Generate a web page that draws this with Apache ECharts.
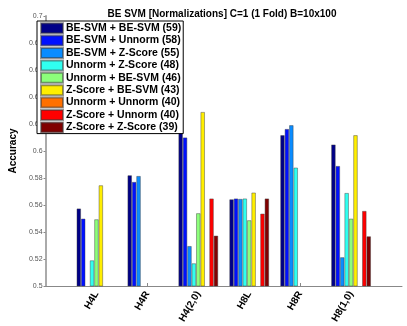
<!DOCTYPE html>
<html>
<head>
<meta charset="utf-8">
<script src="https://cdn.jsdelivr.net/npm/echarts@6/dist/echarts.min.js"></script>
<style>html,body{margin:0;padding:0;background:#fff}#c{width:407px;height:326px}</style>
</head>
<body>
<div id="c"></div>
<script>
var categories = ['', 'H4L', 'H4R', 'H4(2,0)', 'H8L', 'H8R', 'H8(1,0)', ''];
var seriesNames = [
  'BE-SVM + BE-SVM (59)', 'BE-SVM + Unnorm (58)', 'BE-SVM + Z-Score (55)',
  'Unnorm + Z-Score (48)', 'Unnorm + BE-SVM (46)', 'Z-Score + BE-SVM (43)',
  'Unnorm + Unnorm (40)', 'Z-Score + Unnorm (40)', 'Z-Score + Z-Score (39)'
];
var colors = ['#000088', '#0010ff', '#0a8cff', '#30fff0', '#8cff7a', '#ffee00', '#ff7000', '#ff0000', '#800000'];
// values per series across H4L, H4R, H4(2,0), H8L, H8R, H8(1,0)
var beBe   = [0.5574, 0.5820, 0.6140, 0.5642, 0.6117, 0.6048];
var beUn   = [0.5499, 0.5771, 0.6100, 0.5648, 0.6163, 0.5889];
var beZ    = [null,   0.5815, 0.5296, 0.5645, 0.6191, 0.5213];
var unZ    = [0.5190, null,   0.5168, 0.5648, 0.5877, 0.5689];
var unBe   = [0.5494, null,   0.5539, 0.5487, null,   0.5499];
var zBe    = [0.5746, null,   0.6289, 0.5692, null,   0.6117];
var unUn   = [null,   null,   null,   null,   null,   null];
var zUn    = [null,   null,   0.5648, 0.5536, null,   0.5556];
var zZ     = [null,   null,   0.5373, 0.5648, null,   0.5368];
var yTicks = { min: 0.5, max: 0.7, step: 0.02 };

var allData = [beBe, beUn, beZ, unZ, unBe, zBe, unUn, zUn, zZ];
var series = allData.map(function (d, i) {
  return {
    name: seriesNames[i],
    type: 'bar',
    data: [null].concat(d).concat([null]),
    barGap: '0%',
    barCategoryGap: '22%',
    itemStyle: { color: colors[i], borderColor: 'rgba(60,60,60,0.55)', borderWidth: 0.8 },
    emphasis: { disabled: true },
    animation: false
  };
});

var chart = echarts.init(document.getElementById('c'), null, { renderer: 'canvas' });
chart.setOption({
  animation: false,
  title: {
    text: 'BE SVM [Normalizations] C=1 (1 Fold) B=10x100',
    left: 217, textAlign: 'center', top: 4,
    textStyle: { fontFamily: 'Liberation Sans', fontWeight: 'bold', fontSize: 10, color: '#000' }
  },
  grid: { left: 33, right: 5, top: 16, bottom: 40 },
  legend: {
    data: seriesNames,
    orient: 'vertical',
    left: 37, top: 21,
    itemWidth: 22, itemHeight: 10, itemGap: 0,
    padding: [1, 2, 0, 3],
    backgroundColor: '#fff',
    borderColor: '#000', borderWidth: 1,
    icon: 'rect',
    textStyle: { fontFamily: 'Liberation Sans', fontWeight: 'bold', fontSize: 10.5, lineHeight: 12.4, height: 12.4, color: '#000', padding: [0, 0, 0, -2] },
    selectedMode: false
  },
  xAxis: {
    type: 'category',
    data: categories,
    boundaryGap: false,
    axisLine: { lineStyle: { color: '#888', width: 1 } },
    axisTick: { inside: true, length: 3, lineStyle: { color: '#888' },
      interval: function (idx) { return idx > 0 && idx < categories.length - 1; } },
    axisLabel: { rotate: 60, fontFamily: 'Liberation Sans', fontWeight: 'bold', fontSize: 10, color: '#000', margin: 6,
      interval: 0 },
    splitLine: { show: false }
  },
  yAxis: {
    type: 'value',
    min: yTicks.min, max: yTicks.max, interval: yTicks.step,
    name: 'Accuracy', nameLocation: 'middle', nameGap: 25,
    nameTextStyle: { fontFamily: 'Liberation Sans', fontWeight: 'bold', fontSize: 10, color: '#000' },
    axisLine: { show: true, lineStyle: { color: '#aaa', width: 2 } },
    axisTick: { show: true, length: 2, lineStyle: { color: '#888' } },
    axisLabel: { fontFamily: 'Liberation Sans', fontSize: 7, color: '#555', margin: 3 },
    splitLine: { show: false }
  },
  series: series
});
</script>
</body>
</html>
